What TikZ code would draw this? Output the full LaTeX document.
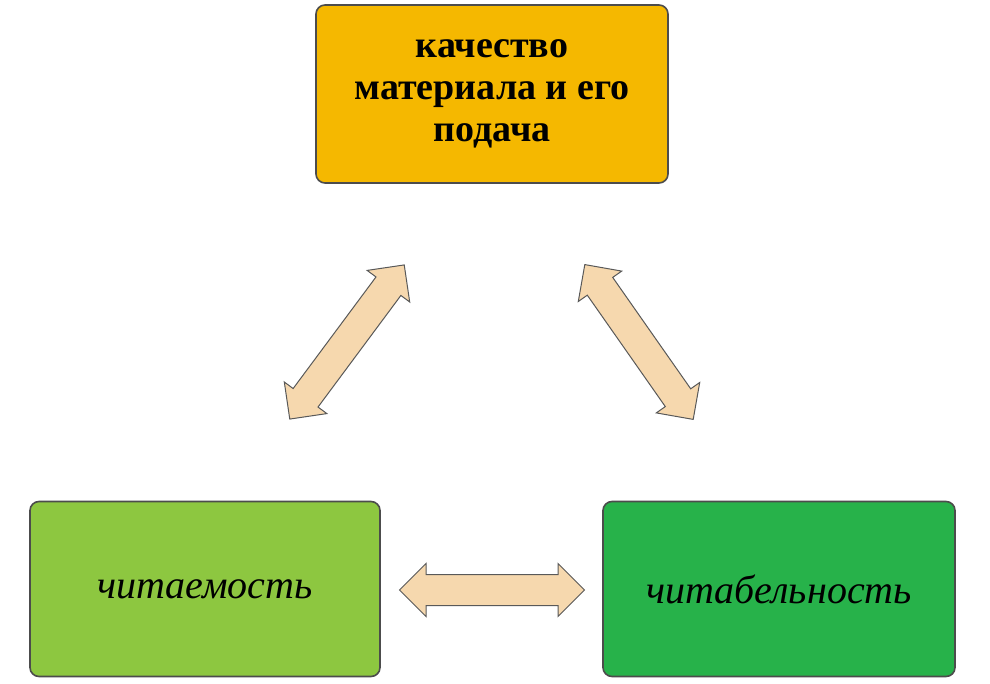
\documentclass[tikz,border=0pt]{standalone}
\usepackage{fontspec}
\setmainfont{Liberation Serif}
\usetikzlibrary{shapes.arrows}
\begin{document}
\begin{tikzpicture}[x=1pt,y=-1pt,
  box/.style={draw=black!70,line width=1.6pt,rounded corners=9pt,inner sep=0pt},
  dbl/.style={double arrow,draw=black!65,line width=1pt,fill=arrowfill,inner xsep=0pt,inner ysep=15pt,
    font=\fontsize{1}{1}\selectfont,double arrow head extend=11pt,double arrow head indent=0pt}]
\definecolor{arrowfill}{HTML}{F6D8AE}
\definecolor{topc}{HTML}{F5B800}
\definecolor{leftc}{HTML}{8DC740}
\definecolor{rightc}{HTML}{27B24A}
\useasboundingbox (0,0) rectangle (990,684);
\fill[white] (0,0) rectangle (990,684);
\node[box,fill=topc,minimum width=352pt,minimum height=178pt,align=center,font=\bfseries\fontsize{38}{42}\selectfont] (top) at (492,94) {качество\\материала и его\\подача};
\node[box,fill=leftc,minimum width=350pt,minimum height=175pt,font=\itshape\fontsize{40}{44}\selectfont] (left) at (205,589) {читаемость};
\node[box,fill=rightc,minimum width=352pt,minimum height=175pt,font=\itshape\fontsize{40}{44}\selectfont] (right) at (779,589) {читабельность};
\node[dbl,minimum height=192pt,rotate=53.4] (a1) at (347,342) {};
\node[dbl,minimum height=189pt,rotate=-55] (a2) at (639,342) {};
\node[dbl,minimum height=185pt] (a3) at (492,590) {};
\end{tikzpicture}
\end{document}
